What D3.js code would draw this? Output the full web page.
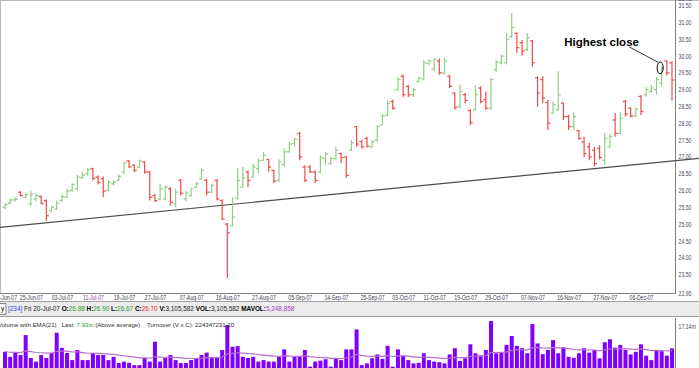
<!DOCTYPE html>
<html>
<head>
<meta charset="utf-8">
<script src="https://cdn.jsdelivr.net/npm/d3@7"></script>
<style>
    body { margin: 0; background: #fff; }
    svg { display: block; font-family: Arial, "Liberation Sans", sans-serif; }
    .pre { white-space: pre; }
</style>
</head>
<body>
<div id="chart"></div>
<script>
// trading days shown on the chart
const dates = [
    "18-Jun-07","19-Jun-07","20-Jun-07","21-Jun-07","22-Jun-07","25-Jun-07","26-Jun-07","27-Jun-07","28-Jun-07","29-Jun-07",
    "02-Jul-07","03-Jul-07","04-Jul-07","05-Jul-07","06-Jul-07","09-Jul-07","10-Jul-07","11-Jul-07","12-Jul-07","13-Jul-07",
    "16-Jul-07","17-Jul-07","18-Jul-07","19-Jul-07","20-Jul-07","23-Jul-07","24-Jul-07","25-Jul-07","26-Jul-07","27-Jul-07",
    "30-Jul-07","31-Jul-07","01-Aug-07","02-Aug-07","03-Aug-07","06-Aug-07","07-Aug-07","08-Aug-07","09-Aug-07","10-Aug-07",
    "13-Aug-07","14-Aug-07","15-Aug-07","16-Aug-07","17-Aug-07","20-Aug-07","21-Aug-07","22-Aug-07","23-Aug-07","24-Aug-07",
    "27-Aug-07","28-Aug-07","29-Aug-07","30-Aug-07","31-Aug-07","03-Sep-07","04-Sep-07","05-Sep-07","06-Sep-07","07-Sep-07",
    "10-Sep-07","11-Sep-07","12-Sep-07","13-Sep-07","14-Sep-07","17-Sep-07","18-Sep-07","19-Sep-07","20-Sep-07","21-Sep-07",
    "24-Sep-07","25-Sep-07","26-Sep-07","27-Sep-07","28-Sep-07","01-Oct-07","02-Oct-07","03-Oct-07","04-Oct-07","05-Oct-07",
    "08-Oct-07","09-Oct-07","10-Oct-07","11-Oct-07","12-Oct-07","15-Oct-07","16-Oct-07","17-Oct-07","18-Oct-07","19-Oct-07",
    "22-Oct-07","23-Oct-07","24-Oct-07","25-Oct-07","26-Oct-07","29-Oct-07","30-Oct-07","31-Oct-07","01-Nov-07","02-Nov-07",
    "05-Nov-07","06-Nov-07","07-Nov-07","08-Nov-07","09-Nov-07","12-Nov-07","13-Nov-07","14-Nov-07","15-Nov-07","16-Nov-07",
    "19-Nov-07","20-Nov-07","21-Nov-07","22-Nov-07","23-Nov-07","26-Nov-07","27-Nov-07","28-Nov-07","29-Nov-07","30-Nov-07",
    "03-Dec-07","04-Dec-07","05-Dec-07","06-Dec-07","07-Dec-07","10-Dec-07","11-Dec-07","12-Dec-07","13-Dec-07","14-Dec-07"
];

const opens = [
    25.50,25.62,25.72,25.95,25.80,25.60,25.74,25.82,25.70,25.40,
    25.45,25.70,25.80,26.00,26.05,26.38,26.50,26.65,26.40,26.35,
    26.00,26.20,26.30,26.55,26.88,26.75,26.70,26.85,26.55,25.85,
    25.75,25.75,26.05,25.60,26.30,25.75,25.85,26.10,26.35,26.30,
    25.95,26.30,25.70,25.00,24.95,25.78,26.10,26.55,26.40,26.65,
    26.90,26.92,26.60,26.30,26.78,27.15,27.40,27.70,26.70,26.70,
    26.55,26.55,26.95,26.80,26.95,27.10,27.00,27.20,27.90,27.45,
    27.55,27.30,27.50,27.95,28.25,28.65,29.00,29.40,29.10,28.85,
    29.25,29.32,29.78,29.62,29.85,29.50,29.40,28.90,28.50,28.85,
    28.38,28.40,29.05,28.70,28.45,29.60,29.80,29.80,30.58,30.68,
    30.40,30.20,30.45,29.35,29.30,28.62,28.30,28.40,28.60,28.20,
    27.90,27.78,27.45,27.30,27.20,27.25,26.90,27.30,28.10,27.70,
    28.65,28.45,28.22,28.80,28.85,28.95,29.00,29.20,29.85,29.80
];
const highs = [
    25.62,25.76,25.80,25.98,25.92,26.00,25.92,25.85,25.74,25.55,
    25.70,25.88,26.06,26.22,26.46,26.55,26.67,26.68,26.45,26.42,
    26.30,26.30,26.48,26.85,26.90,26.78,26.92,26.87,26.58,25.90,
    26.20,26.15,26.10,26.05,26.35,26.00,26.08,26.25,26.66,26.34,
    26.20,26.34,25.74,25.03,25.80,26.67,26.70,26.60,26.80,26.95,
    27.15,26.95,26.62,26.92,27.25,27.45,27.58,27.75,26.75,26.76,
    26.60,27.05,27.15,27.00,27.30,27.12,27.02,27.50,27.92,27.50,
    27.60,27.50,27.95,28.28,28.68,28.70,29.38,29.45,29.14,29.05,
    29.38,29.88,29.90,29.95,29.92,29.95,29.44,28.92,29.15,28.90,
    28.40,29.12,29.10,28.95,29.35,29.88,30.05,30.68,31.28,30.70,
    30.48,30.68,30.48,29.40,29.40,28.70,28.65,29.55,28.62,28.25,
    28.33,27.80,27.60,27.42,27.30,27.35,27.72,27.70,28.30,28.32,
    28.70,28.47,28.48,28.84,29.08,29.14,29.38,29.70,29.88,29.85
];
const lows = [
    25.45,25.60,25.68,25.82,25.78,25.55,25.68,25.58,25.10,25.35,
    25.42,25.65,25.78,25.96,26.00,26.35,26.45,26.30,26.18,25.80,
    25.98,26.15,26.28,26.50,26.67,26.55,26.68,26.50,25.70,25.65,
    25.72,25.70,25.55,25.50,25.85,25.68,25.82,26.08,26.30,25.85,
    25.92,25.70,25.12,23.40,24.92,25.72,26.10,26.10,26.38,26.52,
    26.88,26.55,26.22,26.25,26.70,27.12,27.30,26.90,26.25,26.52,
    26.22,26.52,26.75,26.76,26.90,26.82,26.38,27.18,27.30,27.25,
    27.28,27.28,27.45,27.95,28.20,28.40,28.98,28.78,28.78,28.78,
    29.22,29.28,29.72,29.55,29.45,29.45,29.05,28.40,28.45,28.60,
    27.95,28.38,28.60,28.40,28.40,29.52,29.75,29.75,30.54,30.10,
    30.02,30.15,29.68,28.50,28.60,27.80,28.28,28.38,28.10,27.80,
    27.80,27.50,27.00,26.90,26.72,26.92,26.75,27.28,27.60,27.70,
    28.20,28.18,28.18,28.25,28.80,28.90,28.85,29.10,29.42,28.68
];
const closes = [
    25.58,25.72,25.74,25.85,25.88,25.90,25.85,25.62,25.25,25.50,
    25.62,25.82,25.98,26.18,26.40,26.46,26.62,26.36,26.24,25.98,
    26.25,26.25,26.42,26.82,26.70,26.60,26.88,26.55,25.80,25.70,
    26.05,26.10,25.65,25.95,25.92,25.92,26.05,26.20,26.60,25.95,
    26.15,25.75,25.15,24.74,25.21,26.30,26.37,26.30,26.70,26.88,
    27.05,26.70,26.28,26.85,27.15,27.38,27.52,27.00,26.30,26.55,
    26.30,26.98,27.08,26.95,27.20,26.98,26.45,27.42,27.38,27.30,
    27.32,27.45,27.90,28.22,28.60,28.45,29.30,28.85,28.85,29.00,
    29.35,29.80,29.85,29.90,29.50,29.85,29.10,28.48,28.95,28.68,
    28.02,28.85,28.65,28.45,29.30,29.82,30.00,30.50,30.85,30.25,
    30.15,30.55,29.80,28.90,28.75,28.00,28.55,28.85,28.20,27.90,
    28.20,27.55,27.10,27.00,26.80,26.98,27.55,27.60,27.70,28.15,
    28.28,28.22,28.42,28.35,29.00,29.05,29.30,29.65,29.50,29.29
];
// volume in millions of shares
const volumes = [
    6.8,5.1,6.4,5.7,12.4,4.7,3.5,5.7,4.7,6.4,
    13.2,8.1,6.4,4.0,7.4,4.0,4.0,6.4,5.7,5.7,
    4.0,5.1,3.0,3.5,3.11,2.3,2.3,4.7,3.5,10.2,
    3.5,4.7,5.7,4.0,3.0,3.0,4.0,4.7,5.7,6.5,
    4.7,4.7,7.4,15.8,8.5,8.7,5.1,4.7,5.1,3.5,
    4.0,3.5,3.5,5.1,7.6,3.5,5.1,5.1,7.4,1.8,
    3.5,3.8,4.3,1.8,4.7,4.0,7.6,7.6,14.3,2.3,
    2.9,4.6,5.9,4.4,8.8,1.8,7.6,5.5,4.0,2.9,
    3.1,6.3,4.0,3.5,3.3,2.9,5.9,8.0,3.7,4.6,
    9.3,6.3,5.6,7.4,17.14,6.3,6.6,9.1,12.1,8.8,
    8.0,6.3,16.1,9.6,6.0,7.4,10.7,6.3,8.3,5.1,
    4.8,6.3,8.0,6.5,7.4,4.6,10.0,11.0,8.2,9.1,
    7.4,5.9,6.8,9.3,5.5,4.0,7.4,7.0,5.5,7.93
];

const xTickLabels = ["18-Jun-07","25-Jun-07","03-Jul-07","11-Jul-07","19-Jul-07","27-Jul-07","07-Aug-07","16-Aug-07",
    "27-Aug-07","05-Sep-07","14-Sep-07","25-Sep-07","03-Oct-07","11-Oct-07","19-Oct-07","29-Oct-07","07-Nov-07",
    "16-Nov-07","27-Nov-07","06-Dec-07"];
const yTickValues = [22.95,23.5,24,24.5,25,25.5,26,26.5,27,27.5,28,28.5,29,29.5,30,30.5,31,31.5,31.72];

// support line drawn by hand on the chart
const trendDates = ["18-Jun-07","14-Dec-07"];
const trendPrices = [24.92,26.88];

const noteDate = "12-Dec-07";
const noteText = "Highest close";

// layout
const svgWidth = 699,
    svgHeight = 368,
    axisX = 675,
    priceBottom = 293,
    squeeze = 0.8; // axis labels use a narrow font

let svg = d3.select("#chart").append("svg")
    .attr("width", svgWidth)
    .attr("height", svgHeight);

let bars = dates.map((d, i) => ({ date: d, o: opens[i], h: highs[i], l: lows[i], c: closes[i], v: volumes[i] }));

// scales
let xScale = d3.scalePoint().domain(dates).range([5, 672]);
let yScale = d3.scaleLinear().domain([22.95, 31.72]).range([priceBottom, -1.7]);
let volScale = d3.scaleLinear().domain([0, 17.14]).range([372, 321]);

// panel frame
svg.append("line").attr("x1", 0).attr("x2", svgWidth).attr("y1", 0.5).attr("y2", 0.5).attr("stroke", "#b8b8b8");
svg.append("line").attr("x1", 0.5).attr("x2", 0.5).attr("y1", 0).attr("y2", priceBottom).attr("stroke", "#b8b8b8");
svg.append("line").attr("x1", 0).attr("x2", axisX).attr("y1", priceBottom + 0.5).attr("y2", priceBottom + 0.5).attr("stroke", "#808080");

// price axis
let yAxis = svg.append("g")
    .attr("transform", `translate(${axisX + 0.5},0)`)
    .call(d3.axisRight(yScale).tickValues(yTickValues).tickSize(0).tickPadding(3).tickFormat(d3.format(".2f")));
yAxis.select(".domain").attr("stroke", "#808080").attr("d", `M0,0V${priceBottom + 1}`);
yAxis.selectAll("text")
    .attr("fill", "#4a4a66").style("font-size", "6.5px")
    .attr("x", 3 / squeeze).attr("transform", `scale(${squeeze},1)`);

// date axis
let xAxis = svg.append("g")
    .attr("transform", `translate(0,${priceBottom})`)
    .call(d3.axisBottom(xScale).tickValues(xTickLabels).tickSize(0).tickPadding(2));
xAxis.select(".domain").remove();
xAxis.selectAll("text")
    .attr("fill", (d) => d == "11-Jul-07" ? "#8a3a9a" : "#404050")
    .style("font-size", "6.4px")
    .attr("transform", `scale(${squeeze},1)`);

// trend line, extended to both edges
let tx1 = xScale(trendDates[0]), ty1 = yScale(trendPrices[0]),
    tx2 = xScale(trendDates[1]), ty2 = yScale(trendPrices[1]);
let slope = (ty2 - ty1) / (tx2 - tx1);
svg.append("line")
    .attr("x1", 0).attr("y1", ty1 - slope * tx1)
    .attr("x2", svgWidth).attr("y2", ty1 + slope * (svgWidth - tx1))
    .attr("stroke", "#4a4a4a").attr("stroke-width", 1.2);

// OHLC bars
let barG = svg.append("g").selectAll("g")
    .data(bars)
    .join("g")
    .attr("stroke", (d) => d.c >= d.o ? "#8fcf84" : "#f04848")
    .attr("stroke-width", 1.2);
barG.append("line")
    .attr("x1", (d) => xScale(d.date)).attr("x2", (d) => xScale(d.date))
    .attr("y1", (d) => yScale(d.h)).attr("y2", (d) => yScale(d.l));
barG.append("line")
    .attr("x1", (d) => xScale(d.date) - 2.5).attr("x2", (d) => xScale(d.date))
    .attr("y1", (d) => yScale(d.o)).attr("y2", (d) => yScale(d.o));
barG.append("line")
    .attr("x1", (d) => xScale(d.date)).attr("x2", (d) => xScale(d.date) + 2.5)
    .attr("y1", (d) => yScale(d.c)).attr("y2", (d) => yScale(d.c));

// annotation
let noteBar = bars.find((d) => d.date == noteDate);
let ex = xScale(noteDate) - 1.5, ey = yScale(noteBar.c);
svg.append("ellipse")
    .attr("cx", ex).attr("cy", ey).attr("rx", 3).attr("ry", 6)
    .attr("fill", "none").attr("stroke", "#000").attr("stroke-width", 1);
svg.append("line")
    .attr("x1", ex - 2).attr("y1", ey - 5.5)
    .attr("x2", ex - 31).attr("y2", ey - 21)
    .attr("stroke", "#000").attr("stroke-width", 0.8);
svg.append("text")
    .attr("x", ex - 96).attr("y", ey - 22)
    .attr("font-weight", "bold").style("font-size", "11.5px")
    .attr("fill", "#000")
    .text(noteText);

// info strip
let info = svg.append("g");
info.append("rect").attr("x", -1).attr("y", 301.5).attr("width", svgWidth + 2).attr("height", 15)
    .attr("fill", "#ececec").attr("stroke", "#a0a0a0");
info.append("rect").attr("x", -1).attr("y", 303.5).attr("width", 7).attr("height", 11)
    .attr("fill", "#f8f8f8").attr("stroke", "#888");
info.append("text").attr("x", 1).attr("y", 311).style("font-size", "6.4px").attr("fill", "#000").text("y");

let sel = bars[24];
let fmtP = d3.format(".2f");
// [text, colour, weight]
let parts = [
    ["[234]", "#3344ff", "normal"], [" Fri " + sel.date + " ", "#202020", "normal"],
    ["O:", "#000", "bold"], [fmtP(sel.o) + " ", "#2a9a2a", "normal"],
    ["H:", "#000", "bold"], [fmtP(sel.h) + " ", "#2a9a2a", "normal"],
    ["L:", "#000", "bold"], [fmtP(sel.l) + " ", "#2a9a2a", "normal"],
    ["C:", "#000", "bold"], [fmtP(sel.c) + " ", "#e03030", "normal"],
    ["V:", "#000", "bold"], ["3,105,582 ", "#202020", "normal"],
    ["VOL:", "#000", "bold"], ["3,105,582 ", "#202020", "normal"],
    ["MAVOL:", "#000", "bold"], ["5,248,858", "#a040c0", "normal"]
];
info.append("text")
    .attr("class", "pre")
    .attr("x", 8).attr("y", 311).style("font-size", "6.4px")
    .selectAll("tspan").data(parts).join("tspan")
    .attr("fill", (d) => d[1]).attr("font-weight", (d) => d[2])
    .text((d) => d[0]);

// volume panel
let emaVals = [];
volumes.forEach((v, i) => {
    emaVals.push(i == 0 ? v : emaVals[i - 1] + (2 / 22) * (v - emaVals[i - 1]));
});

svg.append("g").selectAll("rect")
    .data(bars)
    .join("rect")
    .attr("x", (d) => xScale(d.date) - 2)
    .attr("y", (d) => volScale(d.v))
    .attr("width", 4)
    .attr("height", (d) => volScale(0) - volScale(d.v))
    .attr("fill", "#7f00ff");

svg.append("path")
    .datum(emaVals)
    .attr("fill", "none")
    .attr("stroke", "#b86ccc")
    .attr("stroke-width", 1.2)
    .attr("d", d3.line().x((d, i) => xScale(dates[i])).y((d) => volScale(d)));

let volAxis = svg.append("g")
    .attr("transform", `translate(${axisX + 0.5},0)`)
    .call(d3.axisRight(volScale).tickValues([17.14]).tickSize(0).tickPadding(3).tickFormat((d) => d + "m"));
volAxis.select(".domain").attr("stroke", "#808080").attr("d", "M0,318V368");
volAxis.selectAll("text")
    .attr("fill", "#4a4a66").style("font-size", "6.5px").attr("dy", "1.1em")
    .attr("x", 3 / squeeze).attr("transform", `scale(${squeeze},1)`);

svg.append("text")
    .attr("class", "pre")
    .attr("x", -2).attr("y", 326.5).style("font-size", "6.1px")
    .selectAll("tspan")
    .data([["Volume with EMA(21)   Last: ", "#303030"], ["7.93m", "#2a9a2a"],
        [" (Above average)    Turnover (V x C): 224347231.20", "#303030"]])
    .join("tspan")
    .attr("fill", (d) => d[1])
    .text((d) => d[0]);
</script>
</body>
</html>
